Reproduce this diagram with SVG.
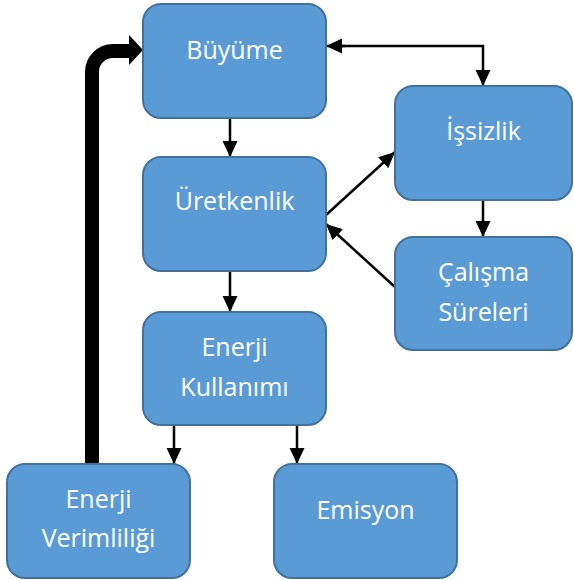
<svg xmlns="http://www.w3.org/2000/svg" width="574" height="580" viewBox="0 0 574 580">
<style>
.box{fill:#5B9BD5;stroke:#41719C;stroke-width:2}
.t{font-family:"Open Sans","Noto Sans",sans-serif;font-size:25px;fill:#fff;text-anchor:middle}
.c{stroke:#000;stroke-width:2.5;fill:none}
</style>
<defs>
<marker id="ah" markerUnits="userSpaceOnUse" markerWidth="17" markerHeight="16" refX="16" refY="7.5" orient="auto">
<path d="M0,0 L16,7.5 L0,15 z" fill="#000"/>
</marker>
</defs>
<rect width="574" height="580" fill="#fff"/>
<g id="connectors">
<path class="c" d="M230,118 V157" marker-end="url(#ah)"/>
<path class="c" d="M230,271 V312" marker-end="url(#ah)"/>
<path class="c" d="M174,425 V464" marker-end="url(#ah)"/>
<path class="c" d="M297,425 V464" marker-end="url(#ah)"/>
<path class="c" d="M340,46 H483 V86" marker-end="url(#ah)"/>
<path class="c" d="M345,46 H326" marker-end="url(#ah)"/>
<path class="c" d="M326,215 L395,152" marker-end="url(#ah)"/>
<path class="c" d="M395,287 L326,224" marker-end="url(#ah)"/>
<path class="c" d="M483,200 V237" marker-end="url(#ah)"/>
<path d="M92,466 V72 A21,21 0 0 1 113,51 H131" fill="none" stroke="#000" stroke-width="14"/>
<polygon points="129,35 143,50 129,65" fill="#000"/>
</g>
<g id="buyume"><rect class="box" x="143" y="4" width="183" height="114" rx="18"/><text class="t" x="234.5" y="59">Büyüme</text></g>
<g id="uretkenlik"><rect class="box" x="143" y="157" width="183" height="114" rx="18"/><text class="t" x="234.5" y="210">Üretkenlik</text></g>
<g id="enerji-kullanimi"><rect class="box" x="143" y="312" width="183" height="113" rx="18"/><text class="t" x="234.5" y="356">Enerji</text><text class="t" x="234.5" y="396">Kullanımı</text></g>
<g id="issizlik"><rect class="box" x="395" y="86" width="177" height="114" rx="18"/><text class="t" x="483.5" y="140">İşsizlik</text></g>
<g id="calisma-sureleri"><rect class="box" x="395" y="237" width="177" height="113" rx="18"/><text class="t" x="483.5" y="281">Çalışma</text><text class="t" x="483.5" y="321">Süreleri</text></g>
<g id="enerji-verimliligi"><rect class="box" x="7" y="464" width="183" height="114" rx="18"/><text class="t" x="98.5" y="508">Enerji</text><text class="t" x="98.5" y="547">Verimliliği</text></g>
<g id="emisyon"><rect class="box" x="274" y="464" width="183" height="114" rx="18"/><text class="t" x="365.5" y="519">Emisyon</text></g>
</svg>
